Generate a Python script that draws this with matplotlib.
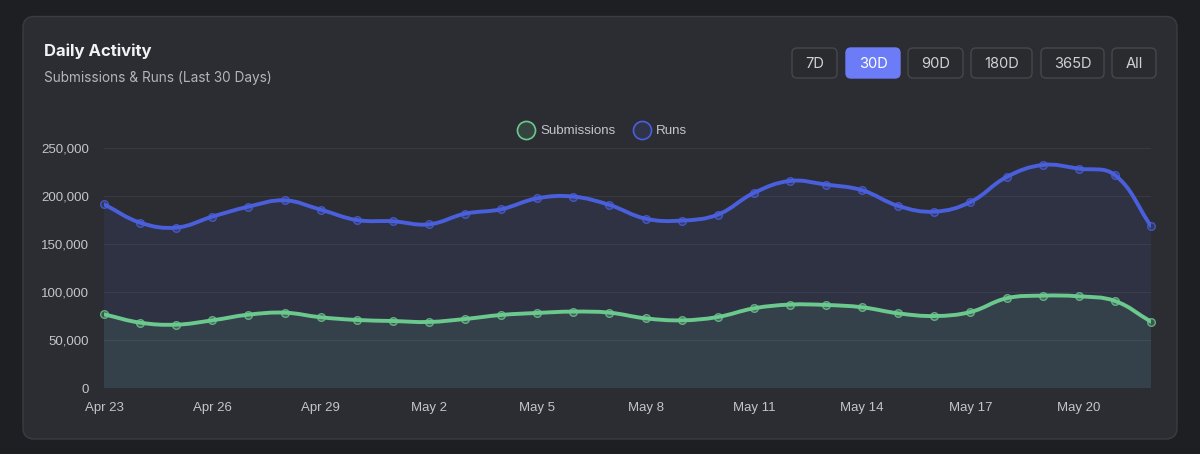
import matplotlib
matplotlib.use("Agg")
import matplotlib.pyplot as plt
import numpy as np
from matplotlib.patches import FancyBboxPatch, PathPatch
from matplotlib.path import Path
from matplotlib.lines import Line2D

# ---- data ----
dates = ["Apr 23", "Apr 24", "Apr 25", "Apr 26", "Apr 27", "Apr 28", "Apr 29", "Apr 30",
         "May 1", "May 2", "May 3", "May 4", "May 5", "May 6", "May 7", "May 8",
         "May 9", "May 10", "May 11", "May 12", "May 13", "May 14", "May 15", "May 16",
         "May 17", "May 18", "May 19", "May 20", "May 21", "May 22"]
submissions = [77100, 68400, 66300, 70800, 76700, 78800, 74000, 71200, 70100, 69100,
               72200, 76400, 78500, 79900, 78800, 72900, 70800, 74300, 83300, 87200,
               86800, 84400, 78100, 75300, 79500, 93800, 96500, 95800, 91000, 69400]
runs = [191700, 172600, 167400, 178800, 189200, 195800, 186100, 175300, 174000, 170800,
        181900, 186500, 197900, 199700, 191000, 176700, 174700, 180900, 203500, 216000,
        212200, 206300, 190000, 184000, 194100, 220100, 232600, 228800, 222200, 169100]
y_ticks = [0, 50000, 100000, 150000, 200000, 250000]
buttons = ["7D", "30D", "90D", "180D", "365D", "All"]
active_button = "30D"

PAGE = "#1e1f23"
CARD = "#2c2d32"
CARD_EDGE = "#3b3c41"
GRID = "#393a40"
TXT = "#c4c5ca"
GREEN = "#6cc98e"
BLUE = "#4a5fdc"
ACCENT = "#6b7cf6"

W, H = 1200, 454
fig = plt.figure(figsize=(W / 100, H / 100), dpi=100)
fig.patch.set_facecolor(PAGE)

# background layer in pixel coords
bg = fig.add_axes([0, 0, 1, 1])
bg.set_xlim(0, W)
bg.set_ylim(H, 0)
bg.axis("off")
bg.add_patch(FancyBboxPatch((23, 16.5), 1154, 422.5,
             boxstyle="round,pad=0,rounding_size=11",
             facecolor=CARD, edgecolor=CARD_EDGE, linewidth=1.0))

bg.text(44, 51, "Daily Activity", fontsize=12, fontweight="bold", color="#f2f2f4",
        family="Inter", va="center", ha="left")
bg.text(44, 78, "Submissions & Runs (Last 30 Days)", fontsize=9.8, color="#b4b5ba",
        family="Inter", va="center", ha="left")

# range buttons
bx = [792, 846, 908, 971, 1041, 1112]
bw = [45, 54, 55, 61, 63, 44]
for label, x, w in zip(buttons, bx, bw):
    on = label == active_button
    bg.add_patch(FancyBboxPatch((x, 48), w, 30,
                 boxstyle="round,pad=0,rounding_size=5",
                 facecolor=ACCENT if on else "#2a2b2f",
                 edgecolor=ACCENT if on else "#46474c", linewidth=1.0))
    bg.text(x + w / 2, 63.5, label, fontsize=10.6, color="#ffffff" if on else "#d0d1d5",
            family="Inter", va="center", ha="center")

# ---- chart ----
ax = fig.add_axes([104 / W, 1 - 388.3 / H, (1151 - 104) / W, (388.3 - 148.3) / H])
ax.set_facecolor("none")
x = np.arange(len(dates))
ax.set_xlim(0, len(dates) - 1)
ax.set_ylim(0, 250000)
for s in ax.spines.values():
    s.set_visible(False)
ax.set_yticks(y_ticks)
ax.set_yticklabels([f"{v:,}" for v in y_ticks])
ax.set_xticks(x[::3])
ax.set_xticklabels(dates[::3])
ax.tick_params(length=0, colors=TXT, labelsize=9.5)
ax.tick_params(axis="y", pad=11)
ax.tick_params(axis="x", pad=10)
for lab in ax.get_xticklabels() + ax.get_yticklabels():
    lab.set_family("Liberation Sans")
ax.grid(axis="y", color=GRID, linewidth=0.8)
ax.set_axisbelow(True)


def spline_path(xs, ys, tension=0.4):
    # Chart.js-style bezier smoothing, computed in pixel space
    pts = ax.transData.transform(np.column_stack([xs, ys]))
    n = len(pts)
    verts = [pts[0]]
    codes = [Path.MOVETO]
    cps = []
    for i in range(n):
        p0 = pts[max(i - 1, 0)]
        p1 = pts[i]
        p2 = pts[min(i + 1, n - 1)]
        d01 = np.hypot(*(p1 - p0))
        d12 = np.hypot(*(p2 - p1))
        tot = d01 + d12 if d01 + d12 > 0 else 1
        fa = tension * d01 / tot
        fb = tension * d12 / tot
        cps.append((p1 - fa * (p2 - p0), p1 + fb * (p2 - p0)))
    for i in range(n - 1):
        verts += [cps[i][1], cps[i + 1][0], pts[i + 1]]
        codes += [Path.CURVE4] * 3
    inv = ax.transData.inverted()
    return inv.transform(np.array(verts)), codes


for vals, col, fill_alpha, z in [(runs, BLUE, 0.10, 2), (submissions, GREEN, 0.10, 3)]:
    verts, codes = spline_path(x, vals)
    line = Path(verts, codes)
    ax.add_patch(PathPatch(line, facecolor="none", edgecolor=col, linewidth=2.8,
                           capstyle="round", joinstyle="round", zorder=z + 2))
    fv = np.vstack([verts, [[x[-1], 0], [x[0], 0], [x[0], 0]]])
    fc = codes + [Path.LINETO, Path.LINETO, Path.CLOSEPOLY]
    ax.add_patch(PathPatch(Path(fv, fc), facecolor=col, alpha=fill_alpha,
                           edgecolor="none", zorder=z))
    ax.plot(x, vals, linestyle="none", marker="o", markersize=5.5,
            markerfacecolor=matplotlib.colors.to_rgba(col, 0.25),
            markeredgecolor=matplotlib.colors.to_rgba(col, 0.8),
            markeredgewidth=1.0, zorder=z + 3, clip_on=False)

handles = [Line2D([], [], linestyle="none", marker="o", markersize=13,
                  markerfacecolor=matplotlib.colors.to_rgba(c, 0.15),
                  markeredgecolor=c, markeredgewidth=1.2, label=l)
           for c, l in [(GREEN, "Submissions"), (BLUE, "Runs")]]
leg = fig.legend(handles=handles, loc="center", bbox_to_anchor=(600 / W, 1 - 131 / H),
                 bbox_transform=fig.transFigure, ncol=2, frameon=False,
                 handletextpad=0.05, columnspacing=1.0,
                 prop={"family": "Liberation Sans", "size": 9.6})
for t in leg.get_texts():
    t.set_color(TXT)

fig.savefig("out.png", facecolor=PAGE)
